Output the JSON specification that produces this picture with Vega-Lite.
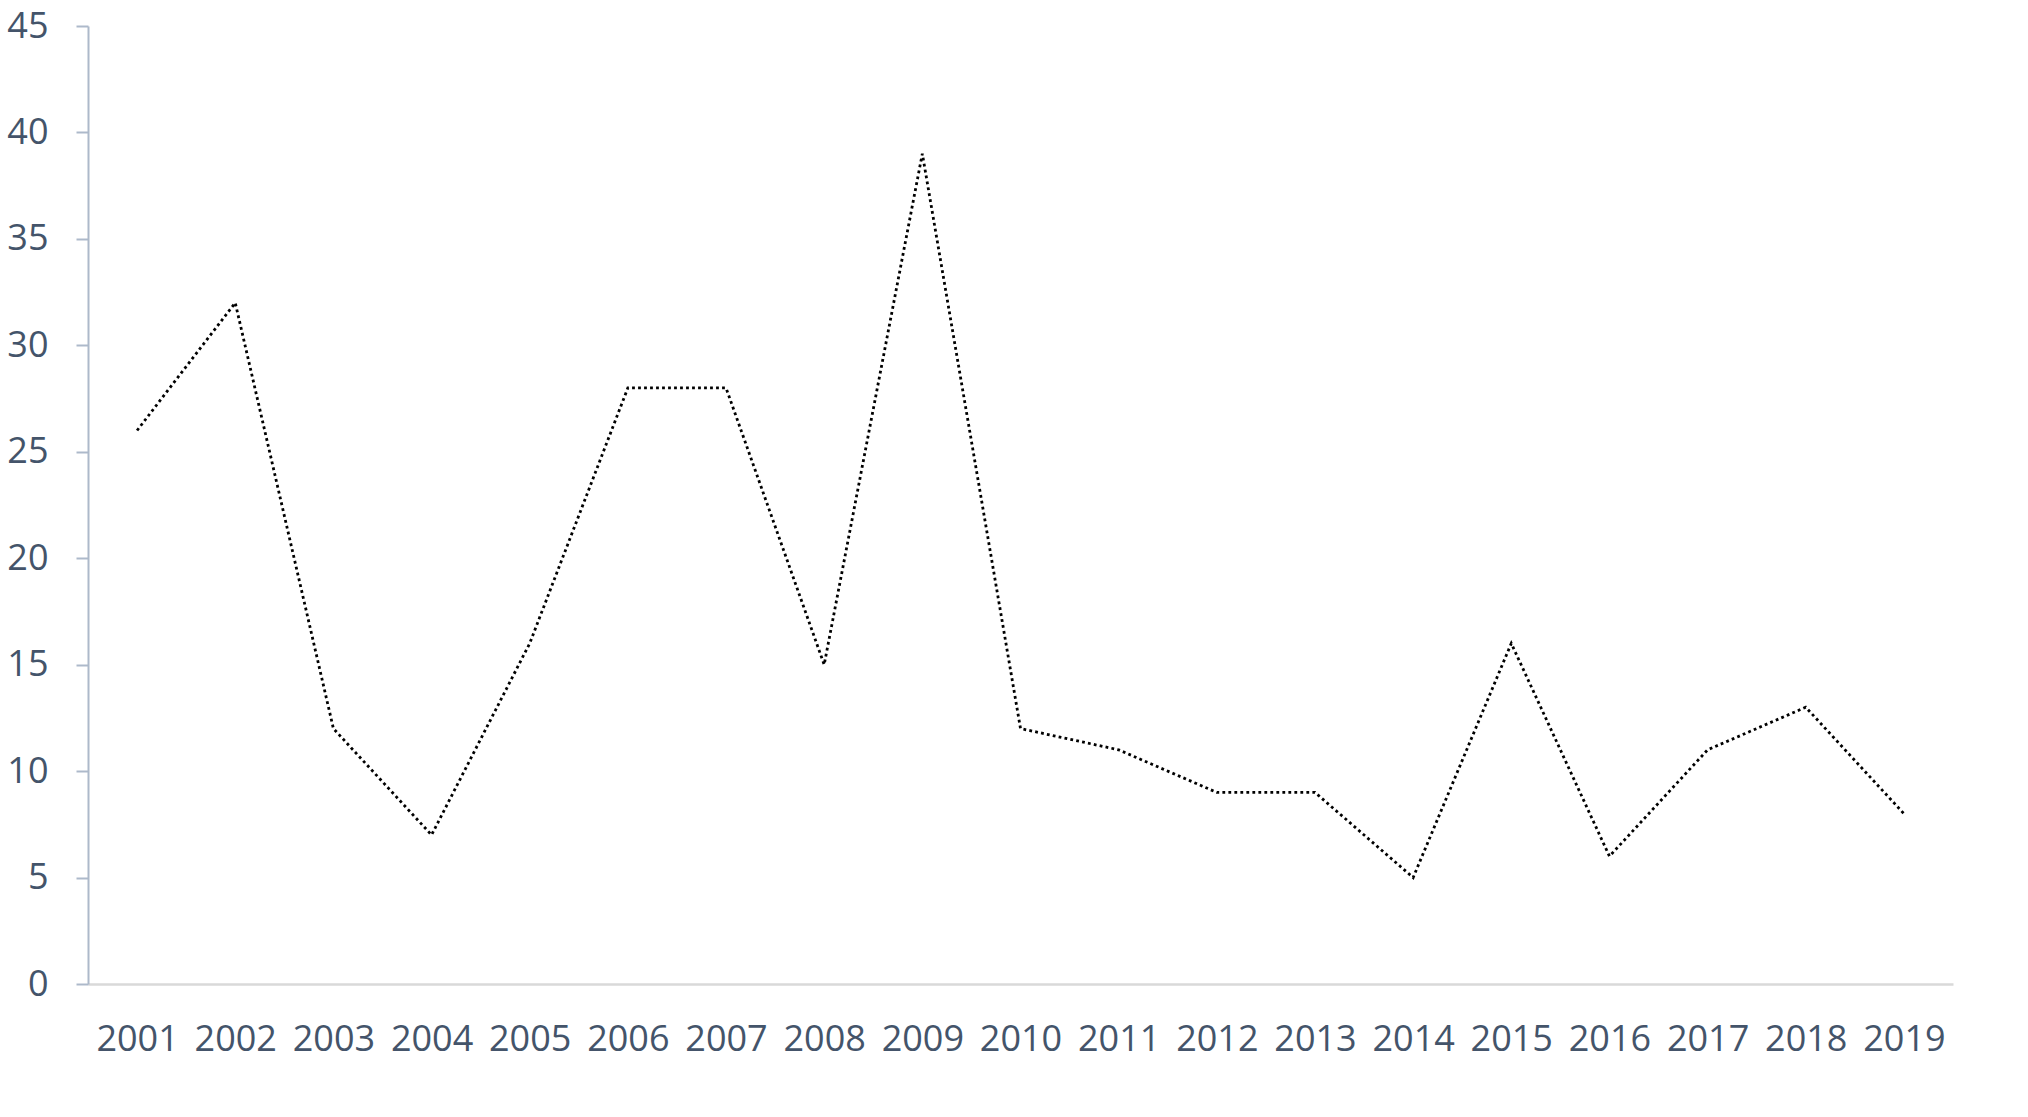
{
  "$schema": "https://vega.github.io/schema/vega-lite/v6.json",
  "autosize": {"type": "none"},
  "width": 1865,
  "height": 958,
  "padding": {"left": 88, "top": 26, "right": 75, "bottom": 133},
  "background": "white",
  "config": {"view": {"stroke": null}},
  "data": {"values": [
    {"year": "2001", "value": 26},
    {"year": "2002", "value": 32},
    {"year": "2003", "value": 12},
    {"year": "2004", "value": 7},
    {"year": "2005", "value": 16},
    {"year": "2006", "value": 28},
    {"year": "2007", "value": 28},
    {"year": "2008", "value": 15},
    {"year": "2009", "value": 39},
    {"year": "2010", "value": 12},
    {"year": "2011", "value": 11},
    {"year": "2012", "value": 9},
    {"year": "2013", "value": 9},
    {"year": "2014", "value": 5},
    {"year": "2015", "value": 16},
    {"year": "2016", "value": 6},
    {"year": "2017", "value": 11},
    {"year": "2018", "value": 13},
    {"year": "2019", "value": 8}
  ]},
  "mark": {"type": "line", "color": "black", "strokeWidth": 2.8, "strokeDash": [2.8, 3.2], "strokeCap": "butt"},
  "encoding": {
    "x": {
      "field": "year", "type": "ordinal", "sort": null,
      "scale": {"type": "point", "padding": 0.5},
      "axis": {
        "title": null, "labelAngle": 0, "ticks": false, "grid": false,
        "domainColor": "#D9D9D9", "domainWidth": 2.5,
        "labelFont": "Open Sans", "labelFontSize": 36, "labelColor": "#44546A",
        "labelPadding": 38
      }
    },
    "y": {
      "field": "value", "type": "quantitative",
      "scale": {"domain": [0, 45], "nice": false},
      "axis": {
        "title": null, "values": [0, 5, 10, 15, 20, 25, 30, 35, 40, 45], "grid": false,
        "domainColor": "#ADB9CA", "domainWidth": 2, "tickColor": "#ADB9CA", "tickWidth": 2, "tickSize": 12,
        "labelFont": "Open Sans", "labelFontSize": 36, "labelColor": "#44546A",
        "labelPadding": 28
      }
    }
  }
}
